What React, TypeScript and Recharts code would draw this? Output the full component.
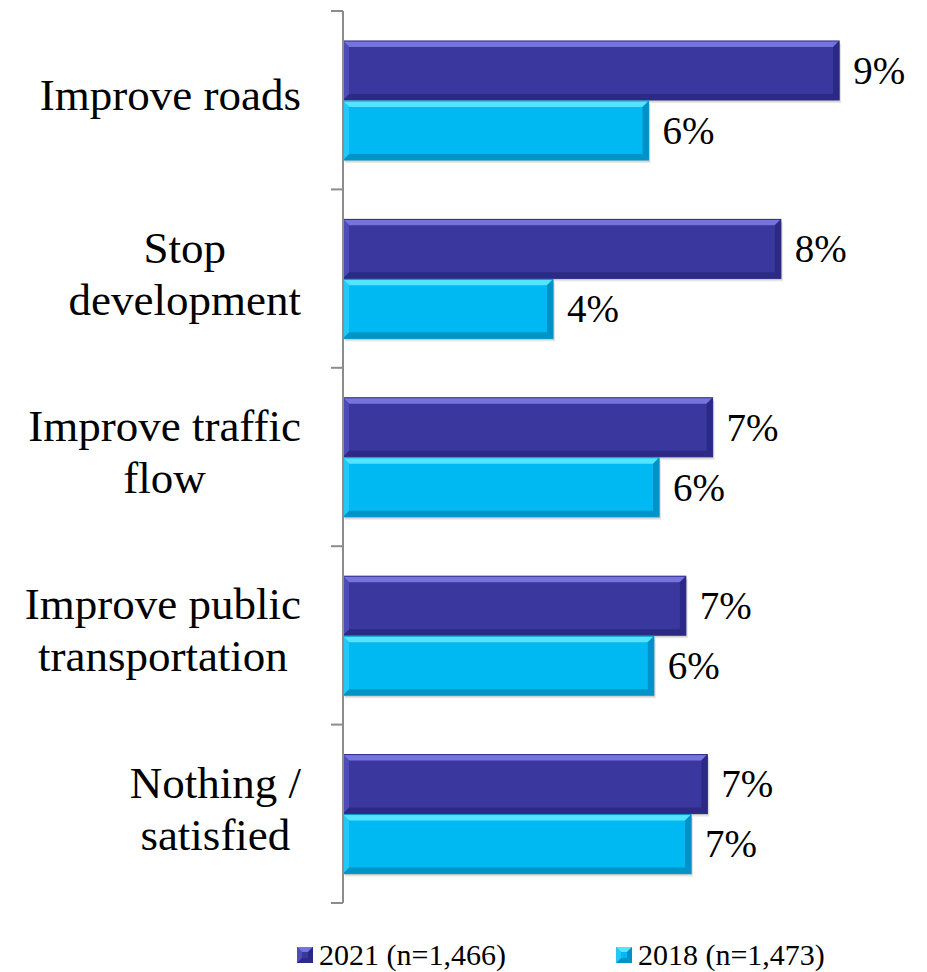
import React from 'react';
import { BarChart, Bar, XAxis, YAxis, Legend, LabelList } from 'recharts';

const categories = [
  'Improve roads',
  'Stop\ndevelopment',
  'Improve traffic\nflow',
  'Improve public\ntransportation',
  'Nothing /\nsatisfied',
];
const values2021 = [9.45, 8.34, 7.04, 6.53, 6.94];
const values2018 = [5.82, 4.0, 6.02, 5.92, 6.63];
const seriesNames = ['2021 (n=1,466)', '2018 (n=1,473)'];

const data = categories.map((name, i) => ({ name, v2021: values2021[i], v2018: values2018[i] }));

const FONT = '"Liberation Serif", "Times New Roman", serif';
const TICK_SIZE = 12;
const TICK_MARGIN = 30;
const LABEL_FONT_SIZE = 45;
const VALUE_FONT_SIZE = 39;
const LINE_H = 52;

const palettes: Record<string, any> = {
  dark: { main: '#3A389E', top: '#7474DC', left: '#4E4CB8', right: '#2B2986', bottom: '#2C2A85', edge: '#2E2C8A' },
  light: { main: '#00B8F2', top: '#55E4FF', left: '#22C8F8', right: '#0092C6', bottom: '#0094C6', edge: '#0496C8' },
};

let measureCtx: CanvasRenderingContext2D | null = null;
function measure(text: string, size: number) {
  if (!measureCtx) {
    const c = document.createElement('canvas');
    measureCtx = c.getContext('2d');
  }
  if (!measureCtx) return text.length * size * 0.45;
  measureCtx.font = `${size}px ${FONT}`;
  return measureCtx.measureText(text).width;
}

function BevelBar(props: any) {
  const { x, y, width, height, pal } = props;
  if (!width || width <= 0) return null;
  const p = palettes[pal];
  const b = Math.min(6, width / 2, height / 2);
  const x2 = x + width;
  const y2 = y + height;
  return (
    <g>
      <rect x={x + 2} y={y + 3} width={width} height={height} fill="#000" opacity={0.1} />
      <rect x={x + 1} y={y + 1.5} width={width} height={height} fill="#000" opacity={0.12} />
      <rect x={x} y={y} width={width} height={height} fill={p.main} />
      <polygon points={`${x},${y} ${x2},${y} ${x2 - b},${y + b} ${x + b},${y + b}`} fill={p.top} />
      <polygon points={`${x},${y2} ${x2},${y2} ${x2 - b},${y2 - b} ${x + b},${y2 - b}`} fill={p.bottom} />
      <polygon points={`${x},${y} ${x + b},${y + b} ${x + b},${y2 - b} ${x},${y2}`} fill={p.left} />
      <polygon points={`${x2},${y} ${x2 - b},${y + b} ${x2 - b},${y2 - b} ${x2},${y2}`} fill={p.right} />
      <rect x={x} y={y} width={width} height={height} fill="none" stroke={p.edge} strokeWidth={1} />
    </g>
  );
}

function CategoryTick(props: any) {
  const { x, y, payload, index } = props;
  const lines: string[] = String(payload.value).split('\n');
  const maxW = Math.max(...lines.map((l) => measure(l, LABEL_FONT_SIZE)));
  const cx = x - maxW / 2;
  const axisX = x + TICK_SIZE + TICK_MARGIN;
  const half = payload.offset ?? 0;
  const n = lines.length;
  const isLast = index === categories.length - 1;
  return (
    <g>
      <line x1={axisX - TICK_SIZE} x2={axisX} y1={y - half} y2={y - half} stroke="#8c8c8c" strokeWidth={2} />
      {isLast && (
        <line x1={axisX - TICK_SIZE} x2={axisX} y1={y + half} y2={y + half} stroke="#8c8c8c" strokeWidth={2} />
      )}
      <text textAnchor="middle" fontFamily={FONT} fontSize={LABEL_FONT_SIZE} fill="#000">
        {lines.map((l, i) => (
          <tspan key={i} x={cx} y={y + 10 + (i - (n - 1) / 2) * LINE_H}>
            {l}
          </tspan>
        ))}
      </text>
    </g>
  );
}

function ValueLabel(props: any) {
  const { x, y, width, height, value } = props;
  return (
    <text x={x + width + 14} y={y + height / 2} dy="0.34em" fontFamily={FONT} fontSize={VALUE_FONT_SIZE} fill="#000">
      {`${Math.round(Number(value))}%`}
    </text>
  );
}

function LegendIcon({ pal }: { pal: string }) {
  const p = palettes[pal];
  const s = 16;
  const b = 5;
  return (
    <svg width={s} height={s} style={{ display: 'block' }}>
      <rect x={0} y={0} width={s} height={s} fill={p.main} />
      <polygon points={`0,0 ${s},0 ${s - b},${b} ${b},${b}`} fill={p.top} />
      <polygon points={`0,${s} ${s},${s} ${s - b},${s - b} ${b},${s - b}`} fill={p.bottom} />
      <polygon points={`0,0 ${b},${b} ${b},${s - b} 0,${s}`} fill={p.left} />
      <polygon points={`${s},0 ${s - b},${b} ${s - b},${s - b} ${s},${s}`} fill={p.right} />
    </svg>
  );
}

function LegendContent(props: any) {
  const payload = [...(props.payload || [])].sort(
    (a: any, b: any) => seriesNames.indexOf(a.value) - seriesNames.indexOf(b.value)
  );
  return (
    <div style={{ height: 69, boxSizing: 'border-box', paddingTop: 34, paddingLeft: 297, display: 'flex', alignItems: 'center' }}>
      {payload.map((entry: any, i: number) => (
        <div key={i} style={{ display: 'flex', alignItems: 'center', marginRight: 110 }}>
          <LegendIcon pal={entry.dataKey === 'v2021' ? 'dark' : 'light'} />
          <span style={{ fontFamily: FONT, fontSize: 30, color: '#000', marginLeft: 6, lineHeight: '30px', whiteSpace: 'nowrap' }}>
            {entry.value}
          </span>
        </div>
      ))}
    </div>
  );
}

export default function App() {
  return (
    <div style={{ position: 'absolute', left: 0, top: 0, width: 927, height: 972, background: '#fff', fontFamily: FONT }}>
      <BarChart
        width={927}
        height={972}
        data={data}
        layout="vertical"
        margin={{ top: 11, right: 59, bottom: 0, left: 0 }}
        barCategoryGap="16.8%"
        barGap={1}
      >
        <XAxis type="number" domain={[0, 10]} hide />
        <YAxis
          type="category"
          dataKey="name"
          width={343}
          interval={0}
          axisLine={{ stroke: '#8c8c8c', strokeWidth: 2 }}
          tickLine={false}
          tickSize={TICK_SIZE}
          tickMargin={TICK_MARGIN}
          tick={<CategoryTick />}
        />
        <Legend
          verticalAlign="bottom"
          align="left"
          height={69}
          wrapperStyle={{ left: 0, width: 927 }}
          content={<LegendContent />}
        />
        <Bar dataKey="v2021" name={seriesNames[0]} fill="#3A389E" isAnimationActive={false} shape={(p: any) => <BevelBar {...p} pal="dark" />}>
          <LabelList dataKey="v2021" content={<ValueLabel />} />
        </Bar>
        <Bar dataKey="v2018" name={seriesNames[1]} fill="#00B8F2" isAnimationActive={false} shape={(p: any) => <BevelBar {...p} pal="light" />}>
          <LabelList dataKey="v2018" content={<ValueLabel />} />
        </Bar>
      </BarChart>
    </div>
  );
}
